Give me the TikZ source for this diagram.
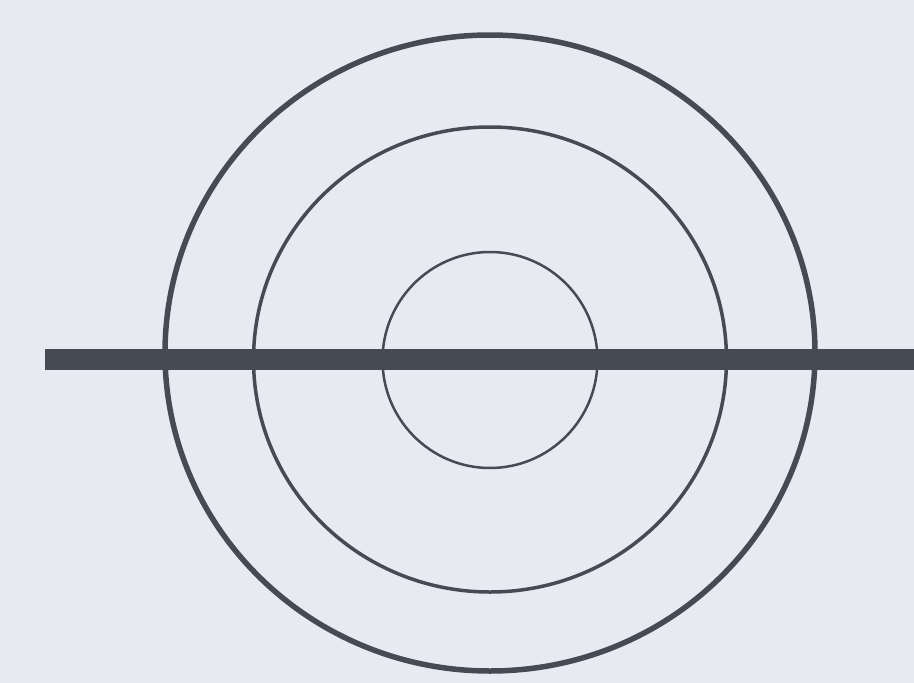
\documentclass[tikz,border=0pt]{standalone}
\definecolor{bg}{HTML}{E7EAF0}
\definecolor{ink}{HTML}{454A55}
\begin{document}
\begin{tikzpicture}[x=1pt,y=-1pt,ring/.style={draw=ink}]
\fill[bg] (0,0) rectangle (914,683);
\useasboundingbox (0,0) rectangle (914,683);
\coordinate (c) at (490,356);
\draw[ring,line width=5.5pt] (490,353) ellipse [x radius=325, y radius=318];
\draw[ring,line width=3.5pt] (490,359.5) ellipse [x radius=236.5, y radius=232.5];
\draw[ring,line width=2.5pt] (490,360) ellipse [x radius=107.5, y radius=108];
\coordinate (l) at (45,359.5);
\coordinate (r) at (914,359.5);
\draw[ink,line width=21pt] (l) -- (r);
\end{tikzpicture}
\end{document}
